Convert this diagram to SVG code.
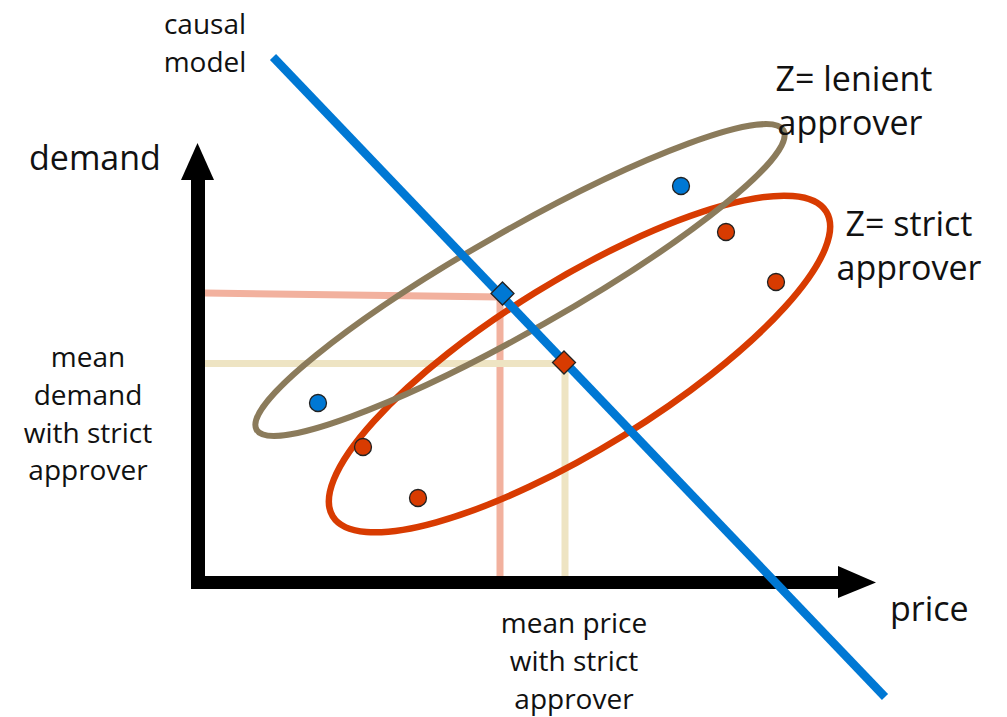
<svg xmlns="http://www.w3.org/2000/svg" width="1007" height="717" viewBox="0 0 1007 717">
<style>
text{font-family:"Open Sans","Noto Sans","DejaVu Sans",sans-serif;fill:#111;}
.s28{font-size:28px;text-anchor:middle;}
.s33{font-size:34px;}
.s33m{font-size:34px;text-anchor:middle;}
.guideP{stroke:#F2B19E;stroke-width:7;fill:none;}
.guideB{stroke:#EEE4C3;stroke-width:7;fill:none;}
.dot{stroke:#222;stroke-width:1.3;}
.blue{fill:#0078D4;}
.red{fill:#D83B01;}
</style>
<rect width="1007" height="717" fill="#fff"/>
<g id="connectors">
  <polyline class="guideP" points="205,293 500,297 500,576"/>
  <polyline class="guideB" points="205,363.5 565,363.5 565,576"/>
</g>
<g id="axes">
  <rect x="191" y="179" width="14" height="410" fill="#000"/>
  <polygon points="197.5,143 214,180 181,180" fill="#000"/>
  <rect x="191" y="576" width="648" height="13" fill="#000"/>
  <polygon points="838,566 876,582.5 838,598" fill="#000"/>
</g>
<g id="strict-group">
  <ellipse cx="579.5" cy="364" rx="290" ry="84" transform="rotate(-31.7 579.5 364)" fill="none" stroke="#D83B01" stroke-width="6.5"/>
</g>
<g id="lenient-group">
  <ellipse cx="520" cy="280" rx="303" ry="50" transform="rotate(-29.6 520 280)" fill="none" stroke="#8B7B5B" stroke-width="6"/>
</g>
<g id="causal-model">
  <line x1="273" y1="57" x2="885" y2="697" stroke="#0078D4" stroke-width="8.5"/>
</g>
<g id="means">
  <polygon class="dot blue" points="502.5,282 514,293.5 502.5,305 491,293.5"/>
  <polygon class="dot red" points="564,351 575.5,362.5 564,374 552.5,362.5"/>
</g>
<g id="points">
  <circle class="dot blue" cx="318" cy="403" r="8.5"/>
  <circle class="dot red" cx="363" cy="447" r="8.5"/>
  <circle class="dot red" cx="418" cy="498" r="8.5"/>
  <circle class="dot blue" cx="681" cy="186" r="8.5"/>
  <circle class="dot red" cx="726" cy="232" r="8.5"/>
  <circle class="dot red" cx="776" cy="282" r="8.5"/>
</g>
<g id="labels">
  <text class="s28" x="205" y="34">causal</text>
  <text class="s28" x="205" y="72">model</text>
  <text class="s33" x="29" y="170">demand</text>
  <text class="s33" x="890" y="621">price</text>
  <text class="s33m" x="854" y="91">Z= lenient</text>
  <text class="s33m" x="850" y="135">approver</text>
  <text class="s33m" x="909" y="236">Z= strict</text>
  <text class="s33m" x="909" y="280">approver</text>
  <text class="s28" x="88" y="367">mean</text>
  <text class="s28" x="88" y="405">demand</text>
  <text class="s28" x="88" y="443">with strict</text>
  <text class="s28" x="88" y="480">approver</text>
  <text class="s28" x="574" y="633">mean price</text>
  <text class="s28" x="574" y="671">with strict</text>
  <text class="s28" x="574" y="709">approver</text>
</g>
</svg>
